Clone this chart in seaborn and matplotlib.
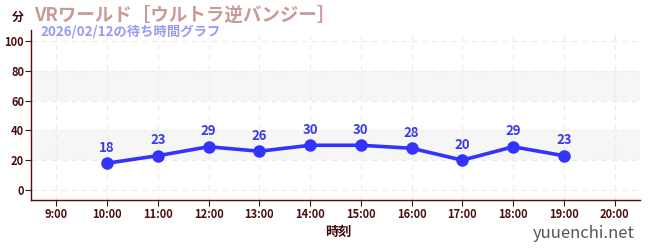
import matplotlib
matplotlib.use("Agg")
import matplotlib.pyplot as plt
import seaborn as sns
import pandas as pd
from matplotlib.ticker import MultipleLocator

hours = [10, 11, 12, 13, 14, 15, 16, 17, 18, 19]
waits = [18, 23, 29, 26, 30, 30, 28, 20, 29, 23]
tick_hours = list(range(9, 21))
tick_labels = [f"{h}:00" for h in tick_hours]
title = "VRワールド［ウルトラ逆バンジー］"
subtitle = "2026/02/12の待ち時間グラフ"
xlabel = "時刻"
ylabel = "分"
watermark = "yuuenchi.net"

sns.set_theme(style="white")
plt.rcParams['font.family'] = ['Noto Sans CJK JP', 'DejaVu Sans']

df = pd.DataFrame({"hour": hours, "wait": waits})

fig = plt.figure(figsize=(6.5, 2.5), dpi=100)
ax = fig.add_axes([31/650, 1-200/250, (640-31)/650, (200-30)/250])

ax.set_xlim(8.5, 20.5)
ax.set_ylim(-6.7, 107.3)

for lo, hi in [(20, 40), (60, 80)]:
    ax.axhspan(lo, hi, color="#f6f6f6", zorder=0, lw=0)

for y in range(0, 101, 20):
    ax.axhline(y, color="#ececec", lw=0.8, ls=(0, (5, 4)), zorder=0.5)
for h in tick_hours:
    ax.axvline(h, color="#ececec", lw=0.8, ls=(0, (5, 4)), zorder=0.5)

sns.lineplot(data=df, x="hour", y="wait", ax=ax, color="#3333ff", lw=2.6,
             marker="o", markersize=9, markeredgewidth=0, zorder=3)

for h, w in zip(hours, waits):
    ax.annotate(str(w), (h, w), xytext=(0, 6), textcoords="offset points",
                ha="center", va="bottom", color="#3b3bea", fontsize=9.5,
                fontweight="bold")

ax.set_xticks(tick_hours)
ax.set_xticklabels(tick_labels)
ax.yaxis.set_major_locator(MultipleLocator(20))
ax.yaxis.set_minor_locator(MultipleLocator(10))
ax.tick_params(axis="both", which="major", labelsize=8, labelcolor="#4a0f0f",
               color="#222222", length=4, width=0.8, direction="out")
ax.tick_params(axis="y", which="minor", color="#cc2222", length=3, width=0.8)
ax.tick_params(axis="x", which="major", pad=2)
ax.tick_params(axis="y", which="major", pad=1)
ax.tick_params(left=True, bottom=True)
for lbl in ax.get_xticklabels() + ax.get_yticklabels():
    lbl.set_fontweight("bold")

for s in ["top", "right"]:
    ax.spines[s].set_visible(False)
for s in ["left", "bottom"]:
    ax.spines[s].set_color("#5a0a0a")
    ax.spines[s].set_linewidth(1.0)

ax.set_xlabel("")
ax.set_ylabel("")

fig.text(338/650, 1-232/250, xlabel, ha="center", va="center", fontsize=9.5,
         fontweight="bold", color="#3a0a0a")
fig.text(12/650, 1-17/250, ylabel, ha="left", va="center", fontsize=8.5,
         fontweight="bold", color="#3a0a0a")
fig.text(34/650, 1-15/250, title, ha="left", va="center", fontsize=13.3,
         fontweight="bold", color="#c89a9a")
fig.text(40/650, 1-32/250, subtitle, ha="left", va="center", fontsize=9.6,
         fontweight="bold", color="#9a9af0")
fig.text(635/650, 1-233/250, watermark, ha="right", va="center", fontsize=12,
         color="#555555")

fig.savefig("out.png", dpi=100)
